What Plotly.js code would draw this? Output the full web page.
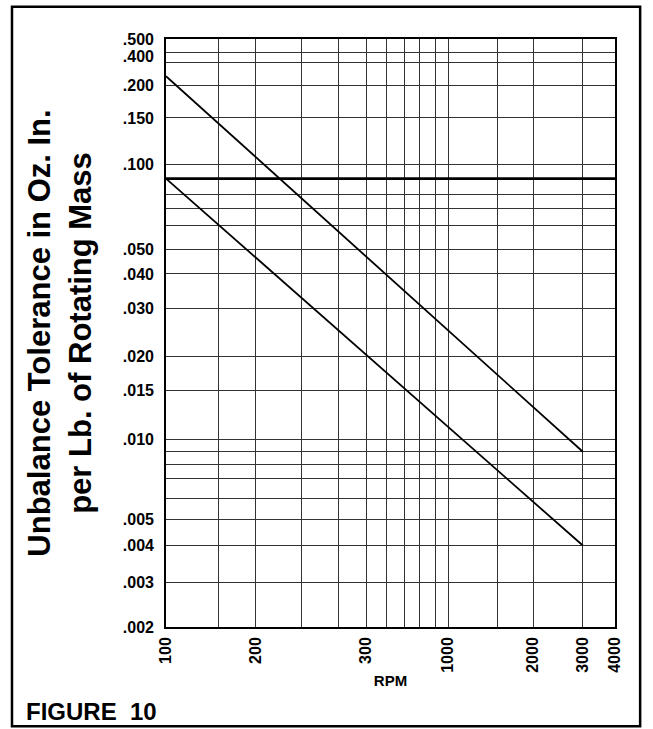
<!DOCTYPE html>
<html>
<head>
<meta charset="utf-8">
<script src="https://cdn.plot.ly/plotly-3.0.1.min.js"></script>
<style>html,body{margin:0;padding:0;background:#fff;}#chart{width:653px;height:729px;}</style>
</head>
<body>
<div id="chart"></div>
<script>
// ---- data ----
const rpm = [100, 3000];
const upperTolerance = [0.21, 0.009];
const lowerTolerance = [0.089, 0.0041];
const refRpm = [100, 3900];
const refTolerance = [0.089, 0.089];

// grid lines (as drawn on the chart)
const xGridVals = [154, 208, 303, 407, 512, 606, 700, 790, 900, 1000, 1500, 2000, 3000];
const yGridVals = [0.003, 0.0041, 0.0051, 0.0061, 0.0072, 0.0081, 0.009, 0.01, 0.015, 0.02, 0.03, 0.04, 0.049, 0.06, 0.069, 0.078, 0.1, 0.148, 0.195, 0.235, 0.257];

// tick labels (as printed on the chart)
const xLabelVals = [100, 208, 512, 1000, 2000, 3000, 3900];
const xLabelText = ['100', '200', '300', '1000', '2000', '3000', '4000'];
const yLabelVals = [0.287, 0.248, 0.195, 0.148, 0.1, 0.049, 0.04, 0.03, 0.02, 0.015, 0.01, 0.0051, 0.0041, 0.003, 0.00207];
const yLabelText = ['.500', '.400', '.200', '.150', '.100', '.050', '.040', '.030', '.020', '.015', '.010', '.005', '.004', '.003', '.002'];

const xRange = [Math.log10(100), Math.log10(3900)];
const yRange = [Math.log10(0.00207), Math.log10(0.287)];

const FONT = 'Liberation Sans, Arial, Helvetica, sans-serif';

const traces = [
  {x: rpm, y: upperTolerance, type: 'scatter', mode: 'lines', line: {color: '#000', width: 1.8}, xaxis: 'x', yaxis: 'y', hoverinfo: 'skip'},
  {x: rpm, y: lowerTolerance, type: 'scatter', mode: 'lines', line: {color: '#000', width: 1.8}, xaxis: 'x', yaxis: 'y', hoverinfo: 'skip'},
  {x: refRpm, y: refTolerance, type: 'scatter', mode: 'lines', line: {color: '#000', width: 2.6}, xaxis: 'x2', yaxis: 'y2', hoverinfo: 'skip'}
];

const layout = {
  width: 653, height: 729,
  margin: {l: 166, r: 38, t: 39, b: 102},
  paper_bgcolor: '#fff', plot_bgcolor: '#fff',
  showlegend: false,
  font: {family: FONT, color: '#000', size: 16, weight: 'bold'},
  xaxis: {
    type: 'log', range: xRange, fixedrange: true,
    tickmode: 'array', tickvals: xGridVals, showticklabels: false, ticks: '',
    showgrid: true, gridcolor: '#333', gridwidth: 1,
    showline: true, linecolor: '#000', linewidth: 2, mirror: true, zeroline: false
  },
  yaxis: {
    type: 'log', range: yRange, fixedrange: true,
    tickmode: 'array', tickvals: yGridVals, showticklabels: false, ticks: '',
    showgrid: true, gridcolor: '#333', gridwidth: 1,
    showline: true, linecolor: '#000', linewidth: 2, mirror: true, zeroline: false
  },
  xaxis2: {
    type: 'log', range: xRange, fixedrange: true, overlaying: 'x', anchor: 'y2', side: 'bottom',
    tickmode: 'array', tickvals: xLabelVals, ticktext: xLabelText, tickangle: -90,
    ticks: '', ticklabelstandoff: 6, showgrid: false, showline: false, zeroline: false,
    tickfont: {family: FONT, size: 16, weight: 'bold', color: '#000'},
    title: {text: 'RPM', font: {family: FONT, size: 15, weight: 'bold', color: '#000'}, standoff: 3}
  },
  yaxis2: {
    type: 'log', range: yRange, fixedrange: true, overlaying: 'y', anchor: 'x2', side: 'left',
    tickmode: 'array', tickvals: yLabelVals, ticktext: yLabelText,
    ticks: '', ticklabelstandoff: 11, showgrid: false, showline: false, zeroline: false,
    tickfont: {family: FONT, size: 16, weight: 'bold', color: '#000'},
    title: {text: 'Unbalance Tolerance in Oz. In.<br>per Lb. of Rotating Mass', font: {family: FONT, size: 31, weight: 'bold', color: '#000'}, standoff: 22}
  },
  shapes: [
    {type: 'rect', xref: 'paper', yref: 'paper', x0: -0.343, x1: 1.056, y0: -0.169, y1: 1.055,
     line: {color: '#000', width: 2.5}, fillcolor: 'rgba(0,0,0,0)', layer: 'below'}
  ],
  annotations: [
    {text: 'FIGURE  10', xref: 'paper', yref: 'paper', x: -0.316, y: -0.1437, xanchor: 'left', yanchor: 'middle',
     showarrow: false, font: {family: FONT, size: 24, weight: 'bold', color: '#000'}}
  ]
};

Plotly.newPlot('chart', traces, layout, {staticPlot: true, displayModeBar: false});
</script>
</body>
</html>
